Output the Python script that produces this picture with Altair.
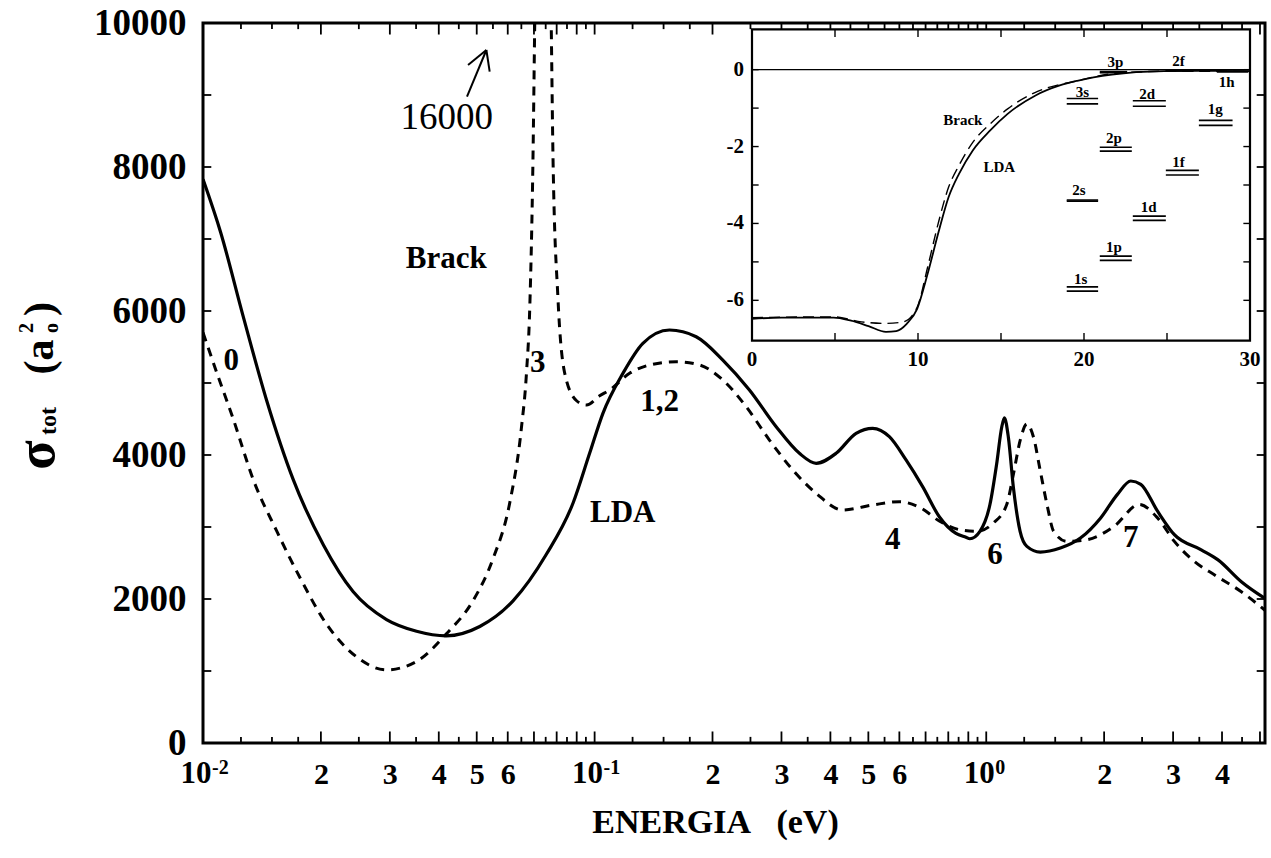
import altair as alt
import pandas as pd

FONT = "Liberation Serif, Times New Roman, Times, serif"
W, H = 1062, 720
E_MIN, E_MAX = 0.01, 5.15
S_MIN, S_MAX = 0, 10000
R_MIN, R_MAX = 0, 30
V_MIN, V_MAX = -7.05, 1.05
INSET_X_RANGE = [549, 1047]
INSET_Y_RANGE = [317.7, 6.3]

# ---------------- main panel data ----------------
lda_E = [0.0100, 0.0111, 0.01267, 0.01454, 0.0170, 0.0203, 0.02416, 0.02942, 0.0351, 0.0418,
         0.0509, 0.0619, 0.0753, 0.0881, 0.0971, 0.1050, 0.1181, 0.1328, 0.1553, 0.1817,
         0.2125, 0.2485, 0.2908, 0.3334, 0.3678, 0.4136, 0.4652, 0.5129, 0.5657, 0.6240,
         0.6880, 0.7588, 0.8369, 0.8876, 0.9083, 0.9636, 1.022, 1.0629, 1.0952, 1.1127,
         1.1391, 1.1732, 1.2203, 1.2699, 1.374, 1.5463, 1.7399, 1.9596, 2.1627, 2.3393,
         2.4812, 2.7384, 3.0226, 3.5401, 3.9075, 4.4812, 5.15]
lda_S = [7830, 7087, 5922, 4757, 3657, 2751, 2104, 1715, 1553, 1489,
         1618, 1974, 2621, 3333, 4023, 4579, 5134, 5551, 5736, 5643,
         5319, 4903, 4393, 4023, 3884, 4023, 4301, 4370, 4254, 3931,
         3560, 3143, 2912, 2857, 2837, 2940, 3312, 3872, 4385, 4515,
         4244, 3546, 2940, 2731, 2651, 2707, 2846, 3126, 3453, 3639,
         3592, 3219, 2893, 2683, 2543, 2240, 2007]

brack_E = [0.0100, 0.01084, 0.01195, 0.01344, 0.01542, 0.01768, 0.02068, 0.02466, 0.0294, 0.0351,
           0.0419, 0.0489, 0.055, 0.0607, 0.065, 0.0670, 0.0683, 0.0696, 0.0703, 0.0737,
           0.0775, 0.0783, 0.0806, 0.0838, 0.0898, 0.0953, 0.1030, 0.1092, 0.1228, 0.1381,
           0.1616, 0.1853, 0.2125, 0.2438, 0.2795, 0.3206, 0.3678, 0.4299, 0.5129, 0.5998,
           0.6820, 0.7605, 0.8558, 0.9447, 1.0426, 1.128, 1.1732, 1.2203, 1.2699, 1.3209,
           1.374, 1.4292, 1.4866, 1.6084, 1.8106, 2.1204, 2.4582, 2.7384, 3.0226, 3.4016,
           3.8309, 4.4812, 5.15]
brack_S = [5700, 5146, 4498, 3657, 2945, 2298, 1650, 1197, 1016, 1133,
           1521, 1974, 2557, 3333, 4369, 5146, 6052, 8123, 9935, 16000,
           9935, 8123, 6181, 5146, 4757, 4693, 4822, 4903, 5134, 5250,
           5296, 5250, 5042, 4671, 4208, 3792, 3468, 3236, 3306, 3351,
           3262, 3079, 2962, 2940, 3055, 3312, 3732, 4199, 4431, 4244,
           3779, 3312, 2940, 2800, 2824, 3010, 3312, 3126, 2800, 2521,
           2333, 2101, 1844]

# annotations in the main panel
ann_text = ["0", "3", "Brack", "LDA", "1,2", "4", "6", "7"]
ann_E = [0.0118, 0.0716, 0.0418, 0.118, 0.1465, 0.5768, 1.053, 2.339]
ann_S = [5300, 5280, 6729, 3190, 4740, 2819, 2614, 2847]
peak_text = ["16000"]
peak_E = [0.0419]
peak_S = [8681]
# arrow pointing to the off-scale peak (segments)
arrow_E0 = [0.04722, 0.05292, 0.05292]
arrow_S0 = [8976, 9625, 9625]
arrow_E1 = [0.05292, 0.04751, 0.05396]
arrow_S1 = [9625, 9417, 9324]

# axis ticks / labels
x_label_values = [0.01, 0.02, 0.03, 0.04, 0.05, 0.06, 0.1, 0.2, 0.3, 0.4, 0.5, 0.6, 1, 2, 3, 4]
x_label_texts = ["", "2", "3", "4", "5", "6", "", "2", "3", "4", "5", "6", "", "2", "3", "4"]
decade_values = [0.01, 0.1, 1]
decade_exp = ["-2", "-1", "0"]
y_label_values = [0, 2000, 4000, 6000, 8000, 10000]
y_tick_values = [1000, 2000, 3000, 4000, 5000, 6000, 7000, 8000, 9000]
major_mant = [1, 2, 3, 4, 5, 6, 7, 8, 9]
minor_mant = [1.25, 1.5, 1.75, 2.5, 3.5, 4.5, 5.5, 6.5, 7.5, 8.5, 9.5]

# ---------------- inset data ----------------
inset_lda_r = [0, 1.78, 4.92, 5.97, 7.02, 8.07, 8.69, 9.32, 9.95, 10.58, 11.21, 11.84,
               12.47, 13.3, 14.35, 15.4, 17.08, 18.54, 19.59, 21.68, 24.83, 27.55, 30]
inset_lda_v = [-6.48, -6.45, -6.45, -6.53, -6.67, -6.82, -6.80, -6.61, -6.22, -5.31, -4.27, -3.32,
               -2.71, -2.10, -1.58, -1.15, -0.67, -0.41, -0.29, -0.13, -0.04, -0.03, -0.04]
inset_brack_r = [0, 4.92, 6.6, 8.07, 9.11, 9.95, 10.58, 11.21, 11.84, 12.47, 13.3, 14.35,
                 15.4, 17.08, 19.59, 21.68, 24.83, 30]
inset_brack_v = [-6.45, -6.43, -6.56, -6.60, -6.56, -6.18, -5.14, -4.01, -3.06, -2.49, -1.89, -1.41,
                 -1.02, -0.59, -0.29, -0.11, -0.04, -0.04]

level_names = ["1s", "2s", "3s", "1p", "2p", "3p", "1d", "2d", "1f", "2f", "1g", "1h"]
level_r0 = [18.96, 18.96, 18.96, 20.95, 20.95, 20.95, 22.94, 22.94, 24.93, 24.93, 26.92, 28.0]
level_r1 = [20.85, 20.85, 20.85, 22.88, 22.88, 22.6, 24.93, 24.93, 26.92, 26.6, 28.95, 29.9]
level_v_lda = [-5.65, -3.39, -0.75, -4.85, -2.02, -0.05, -3.81, -0.81, -2.62, -0.02, -1.32, -0.04]
level_v_brack = [-5.76, -3.42, -0.89, -4.96, -2.12, -0.08, -3.92, -0.95, -2.74, -0.03, -1.45, -0.06]
level_label_r = [19.8, 19.7, 19.9, 21.8, 21.8, 21.9, 23.9, 23.8, 25.7, 25.7, 27.9, 28.6]
level_label_v = [-5.44, -3.14, -0.59, -4.62, -1.77, 0.19, -3.58, -0.63, -2.41, 0.23, -1.02, -0.33]

inset_ann_text = ["Brack", "LDA"]
inset_ann_r = [12.7, 14.9]
inset_ann_v = [-1.32, -2.54]

inset_x_labels = [0, 10, 20, 30]
inset_y_labels = [0, -2, -4, -6]
inset_x_ticks = [5, 10, 15, 20, 25]
inset_y_ticks = [-6, -5, -4, -3, -2, -1, 0]

# ---------------- y-axis title pieces (rotated) ----------------
title_text = ["σ", "tot", "(a", "2", "o", ")"]
title_px = [-165, -154, -163, -176, -151, -163]
title_py = [432, 398, 334, 305, 305, 286]
title_fs = [54, 24, 42, 20, 20, 42]

# =====================================================================
xs = alt.Scale(type="log", domain=[E_MIN, E_MAX], nice=False)
ys = alt.Scale(domain=[S_MIN, S_MAX], nice=False, zero=False)

expr = "''"
for v, t in reversed(list(zip(x_label_values, x_label_texts))):
    expr = f"abs(datum.value-{v})<{v*1e-6} ? '{t}' : ({expr})"

x_axis = alt.Axis(values=x_label_values, labelExpr=expr, ticks=False, domain=False, grid=False,
                  labelFont=FONT, labelFontSize=30, labelFontWeight="bold", labelPadding=16,
                  labelColor="black", labelFlush=False, labelOverlap=False,
                  title="ENERGIA\u00a0\u00a0\u00a0(eV)", titleFont=FONT, titleFontSize=34,
                  titleFontWeight="bold", titleColor="black", titleX=512, titleY=79,
                  titleBaseline="middle", titleAlign="center")
y_axis = alt.Axis(values=y_label_values, format="d", ticks=False, domain=False, grid=False,
                  labelFont=FONT, labelFontSize=37, labelFontWeight="bold", labelPadding=17,
                  labelColor="black", labelFlush=False, title=None)

XE = alt.X("E:Q", scale=xs, axis=x_axis)
YS = alt.Y("S:Q", scale=ys, axis=y_axis)

lda_df = pd.DataFrame({"E": lda_E, "S": lda_S})
brack_df = pd.DataFrame({"E": brack_E, "S": brack_S})

lda_line = alt.Chart(lda_df).mark_line(color="black", strokeWidth=3.2, interpolate="monotone",
                                       clip=True).encode(x=XE, y=YS)
brack_line = alt.Chart(brack_df).mark_line(color="black", strokeWidth=3, strokeDash=[9, 7],
                                           interpolate="monotone", clip=True).encode(x=XE, y=YS)

ann_df = pd.DataFrame({"E": ann_E, "S": ann_S, "t": ann_text})
ann = alt.Chart(ann_df).mark_text(font=FONT, fontSize=31, fontWeight="bold", color="black").encode(
    x=XE, y=YS, text="t:N")
peak_df = pd.DataFrame({"E": peak_E, "S": peak_S, "t": peak_text})
peak = alt.Chart(peak_df).mark_text(font=FONT, fontSize=37, fontWeight="normal", color="black").encode(
    x=XE, y=YS, text="t:N")
arrow_df = pd.DataFrame({"E": arrow_E0, "S": arrow_S0, "E2": arrow_E1, "S2": arrow_S1})
arrow = alt.Chart(arrow_df).mark_rule(color="black", strokeWidth=2).encode(
    x=XE, y=YS, x2="E2:Q", y2="S2:Q")

# inward ticks of the main frame
xt_major = [m * 10 ** d for d in (-2, -1, 0) for m in major_mant if E_MIN < m * 10 ** d < E_MAX]
xt_minor = [m * 10 ** d for d in (-2, -1, 0) for m in minor_mant if E_MIN < m * 10 ** d < E_MAX]
xt_df = pd.DataFrame({"E": xt_major + xt_minor,
                      "L": [160] * len(xt_major) + [85] * len(xt_minor)})
xt_df["S"] = S_MIN
xt_df["S2"] = S_MIN + xt_df["L"]
xt_df["Sa"] = S_MAX
xt_df["Sb"] = S_MAX - xt_df["L"]
ticks_bottom = alt.Chart(xt_df).mark_rule(color="black", strokeWidth=1.8).encode(
    x=XE, y=YS, y2="S2:Q")
ticks_top = alt.Chart(xt_df).mark_rule(color="black", strokeWidth=1.8).encode(
    x=XE, y=alt.Y("Sa:Q", scale=ys, axis=y_axis), y2="Sb:Q")
yt_df = pd.DataFrame({"S": y_tick_values})
yt_df["E"] = E_MIN
yt_df["E2"] = E_MIN * 1.05
yt_df["Ea"] = E_MAX
yt_df["Eb"] = E_MAX / 1.05
ticks_left = alt.Chart(yt_df).mark_rule(color="black", strokeWidth=1.8).encode(
    x=XE, x2="E2:Q", y=YS)
ticks_right = alt.Chart(yt_df).mark_rule(color="black", strokeWidth=1.8).encode(
    x=alt.X("Ea:Q", scale=xs, axis=x_axis), x2="Eb:Q", y=YS)

dec_df = pd.DataFrame({"E": decade_values, "exp": decade_exp, "ten": ["10"] * 3})
dec_ten = alt.Chart(dec_df).mark_text(font=FONT, fontSize=31, fontWeight="bold", baseline="top",
                                      dx=-7, color="black").encode(
    x=XE, y=alt.value(H + 16), text="ten:N")
dec_exp = alt.Chart(dec_df).mark_text(font=FONT, fontSize=20, fontWeight="bold", baseline="top",
                                      align="left", dx=9, color="black").encode(
    x=XE, y=alt.value(H + 15), text="exp:N")

title_df = pd.DataFrame({"t": title_text, "px": title_px, "py": title_py, "fs": title_fs})
ytitle = alt.Chart(title_df).mark_text(font=FONT, fontWeight="bold", angle=270, color="black",
                                       baseline="middle", align="center").encode(
    x=alt.X("px:Q", scale=None, axis=None), y=alt.Y("py:Q", scale=None, axis=None),
    size=alt.Size("fs:Q", scale=None, legend=None), text="t:N")

main = alt.layer(ticks_bottom, ticks_top, ticks_left, ticks_right, brack_line, lda_line,
                 arrow, ann, peak, dec_ten, dec_exp, ytitle)

# ---------------- inset ----------------
rs = alt.Scale(domain=[R_MIN, R_MAX], range=INSET_X_RANGE, nice=False, zero=False)
vs = alt.Scale(domain=[V_MIN, V_MAX], range=INSET_Y_RANGE, nice=False, zero=False)
XR = alt.X("r:Q", scale=rs, axis=None)
YV = alt.Y("v:Q", scale=vs, axis=None)

frame_df = pd.DataFrame({"r": [R_MIN], "r2": [R_MAX], "v": [V_MIN], "v2": [V_MAX]})
frame = alt.Chart(frame_df).mark_rect(fill="white", stroke="black", strokeWidth=2.2).encode(
    x=XR, x2="r2:Q", y=YV, y2="v2:Q")
zero_df = pd.DataFrame({"r": [R_MIN], "r2": [R_MAX], "v": [0.0]})
zero = alt.Chart(zero_df).mark_rule(color="black", strokeWidth=1.3).encode(x=XR, x2="r2:Q", y=YV)

ilda = alt.Chart(pd.DataFrame({"r": inset_lda_r, "v": inset_lda_v})).mark_line(
    color="black", strokeWidth=1.8, interpolate="monotone").encode(x=XR, y=YV)
ibrack = alt.Chart(pd.DataFrame({"r": inset_brack_r, "v": inset_brack_v})).mark_line(
    color="black", strokeWidth=1.4, strokeDash=[11, 6], interpolate="monotone").encode(x=XR, y=YV)

lev_df = pd.DataFrame({"r": level_r0, "r2": level_r1, "v": level_v_lda, "vb": level_v_brack,
                       "name": level_names, "lr": level_label_r, "lv": level_label_v})
lev1 = alt.Chart(lev_df).mark_rule(color="black", strokeWidth=1.6).encode(x=XR, x2="r2:Q", y=YV)
lev2 = alt.Chart(lev_df).mark_rule(color="black", strokeWidth=1.6).encode(
    x=XR, x2="r2:Q", y=alt.Y("vb:Q", scale=vs, axis=None))
lev_lab = alt.Chart(lev_df).mark_text(font=FONT, fontSize=15, fontWeight="bold", color="black").encode(
    x=alt.X("lr:Q", scale=rs, axis=None), y=alt.Y("lv:Q", scale=vs, axis=None), text="name:N")

iann = alt.Chart(pd.DataFrame({"r": inset_ann_r, "v": inset_ann_v, "t": inset_ann_text})).mark_text(
    font=FONT, fontSize=15, fontWeight="bold", color="black").encode(x=XR, y=YV, text="t:N")

ixl = pd.DataFrame({"r": inset_x_labels, "v": [V_MIN] * 4, "t": [str(v) for v in inset_x_labels]})
ixlab = alt.Chart(ixl).mark_text(font=FONT, fontSize=21, fontWeight="bold", baseline="top", dy=8,
                                 color="black").encode(x=XR, y=YV, text="t:N")
iyl = pd.DataFrame({"r": [R_MIN] * 4, "v": inset_y_labels, "t": [str(v) for v in inset_y_labels]})
iylab = alt.Chart(iyl).mark_text(font=FONT, fontSize=21, fontWeight="bold", align="right", dx=-8,
                                 baseline="middle", color="black").encode(x=XR, y=YV, text="t:N")

ixt = pd.DataFrame({"r": inset_x_ticks})
ixt["v"] = V_MIN
ixt["v2"] = V_MIN + 0.2
ixt["va"] = V_MAX
ixt["vb"] = V_MAX - 0.2
ixt_b = alt.Chart(ixt).mark_rule(color="black", strokeWidth=1.4).encode(x=XR, y=YV, y2="v2:Q")
ixt_t = alt.Chart(ixt).mark_rule(color="black", strokeWidth=1.4).encode(
    x=XR, y=alt.Y("va:Q", scale=vs, axis=None), y2="vb:Q")
iyt = pd.DataFrame({"v": inset_y_ticks})
iyt["r"] = R_MIN
iyt["r2"] = R_MIN + 0.4
iyt["ra"] = R_MAX
iyt["rb"] = R_MAX - 0.4
iyt_l = alt.Chart(iyt).mark_rule(color="black", strokeWidth=1.4).encode(x=XR, x2="r2:Q", y=YV)
iyt_r = alt.Chart(iyt).mark_rule(color="black", strokeWidth=1.4).encode(
    x=alt.X("ra:Q", scale=rs, axis=None), x2="rb:Q", y=YV)

inset = alt.layer(frame, zero, ixt_b, ixt_t, iyt_l, iyt_r, ibrack, ilda, lev1, lev2, lev_lab,
                  iann, ixlab, iylab)

chart = alt.layer(main, inset).resolve_scale(x="independent", y="independent").properties(
    width=W, height=H,
    autosize=alt.AutoSizeParams(type="none"),
    padding={"left": 203, "top": 23, "right": 6, "bottom": 115},
    background="white",
).configure_view(stroke="black", strokeWidth=3)

chart.save("out.html", embed_options={"renderer": "svg", "actions": False})
